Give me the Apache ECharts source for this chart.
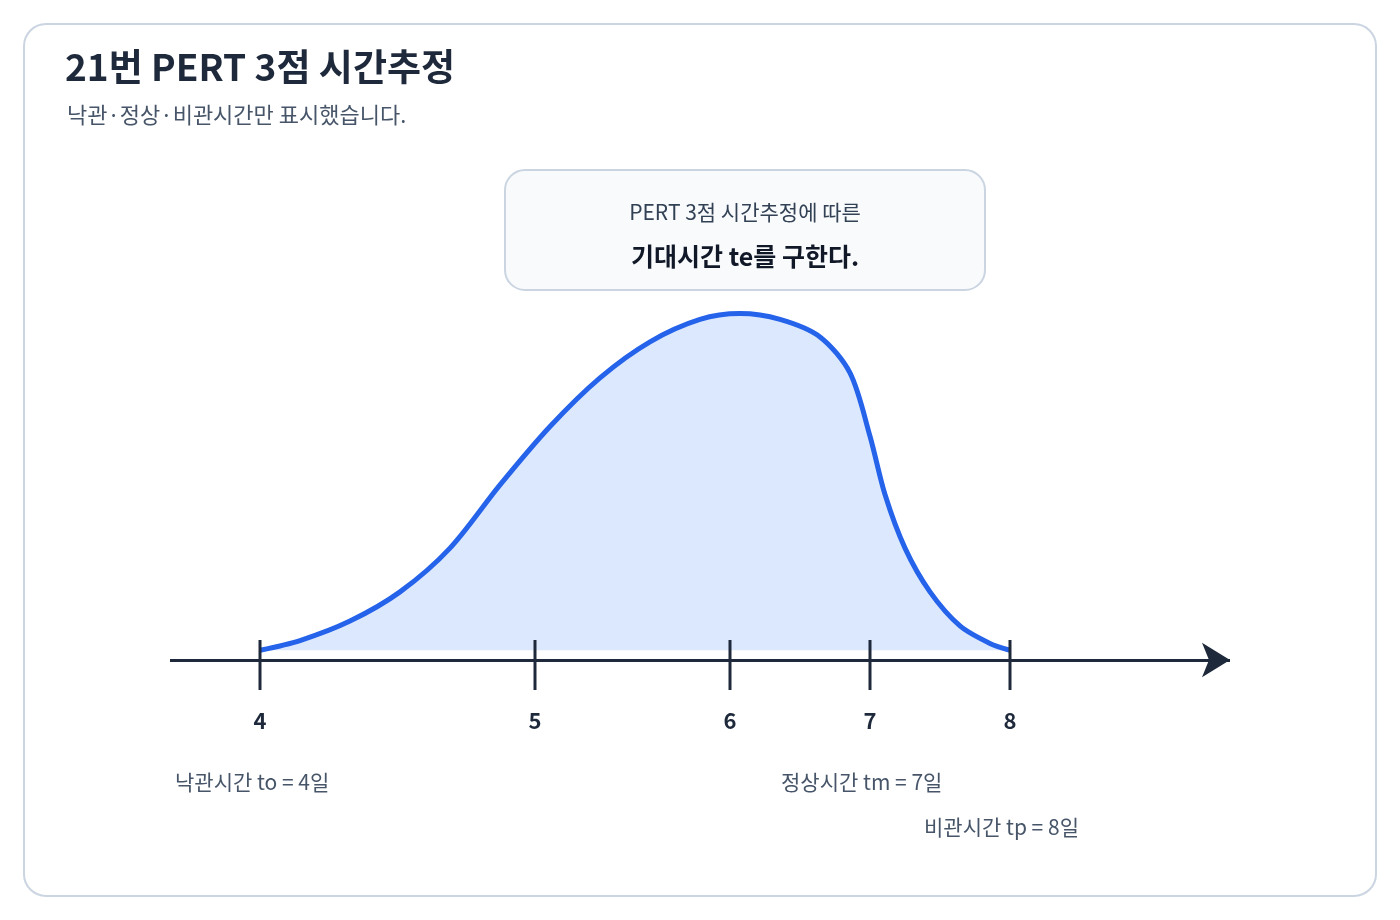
<!DOCTYPE html>
<html><head><meta charset="utf-8">
<script src="https://cdn.jsdelivr.net/npm/echarts@6/dist/echarts.min.js"></script>
<style>html,body{margin:0;padding:0;background:#fff}#c{width:1400px;height:920px}</style>
</head><body><div id="c"></div>
<script>
// Curve: x offset from "4일" tick, y height above fill baseline
const curveX = [0,40,90,140,190,240,290,340,390,440,480,520,560,590,610,625,645,670,700,730,750];
const curveY = [0,10,30,60,105,170,230,280,317,340,346,340,322,285,220,160,105,60,25,7,0];
const tickLabels = ['4','5','6','7','8'];
const tickPos = [0,275,470,610,750];
const notes = ['낙관시간 to = 4일','정상시간 tm = 7일','비관시간 tp = 8일'];

const F = '"Noto Sans CJK KR","Noto Sans",sans-serif';
const chart = echarts.init(document.getElementById('c'));
chart.setOption({
  animation:false,
  grid:{left:170,right:170,top:300,bottom:260},
  xAxis:{type:'value',min:-90,max:970,show:false},
  yAxis:{type:'value',min:-10,max:360,show:false},
  series:[
    {type:'line',data:curveX.map((x,i)=>[x,curveY[i]]),smooth:0.3,symbol:'none',
     lineStyle:{color:'#2563eb',width:5},areaStyle:{color:'#dbe8fd',opacity:1,origin:0},z:3,
     markLine:{silent:true,symbol:['none','arrow'],symbolSize:[26,28],
       lineStyle:{color:'#1e293b',width:3,type:'solid'},label:{show:false},
       data:[[{coord:[-90,-10]},{coord:[970,-10]}]]}},
    {type:'custom',data:tickPos.map((p,i)=>[p,i]),z:5,
     renderItem:(params,api)=>{
       const p=api.coord([api.value(0),-10]);
       return {type:'group',children:[
         {type:'line',shape:{x1:p[0],y1:p[1]-20,x2:p[0],y2:p[1]+30},style:{stroke:'#1e293b',lineWidth:3}},
         {type:'text',x:p[0],y:p[1]+61,style:{text:tickLabels[api.value(1)],font:'bold 22px '+F,fill:'#1e293b',align:'center',verticalAlign:'middle'}}
       ]};
     }}
  ],
  graphic:[
    {type:'rect',shape:{x:24,y:24,width:1352,height:872,r:22},style:{fill:'#fff',stroke:'#cbd5e1',lineWidth:2},z:-10},
    {type:'text',left:65,top:48,style:{text:'21번 PERT 3점 시간추정',font:'bold 37px '+F,fill:'#1e293b'}},
    {type:'text',left:67,top:104,style:{text:'낙관·정상·비관시간만 표시했습니다.',font:'22px '+F,fill:'#475569'}},
    {type:'rect',shape:{x:505,y:170,width:480,height:120,r:20},style:{fill:'#f8fafc',stroke:'#cbd5e1',lineWidth:2}},
    {type:'text',x:745,y:212,style:{text:'PERT 3점 시간추정에 따른',font:'21px '+F,fill:'#334155',align:'center',verticalAlign:'middle'}},
    {type:'text',x:745,y:256,style:{text:'기대시간 te를 구한다.',font:'bold 25px '+F,fill:'#111827',align:'center',verticalAlign:'middle'}},
    {type:'text',x:175,y:782,style:{text:notes[0],font:'21px '+F,fill:'#475569',verticalAlign:'middle'}},
    {type:'text',x:781,y:782,style:{text:notes[1],font:'21px '+F,fill:'#475569',verticalAlign:'middle'}},
    {type:'text',x:924,y:827,style:{text:notes[2],font:'21px '+F,fill:'#475569',verticalAlign:'middle'}}
  ]
});
</script></body></html>
